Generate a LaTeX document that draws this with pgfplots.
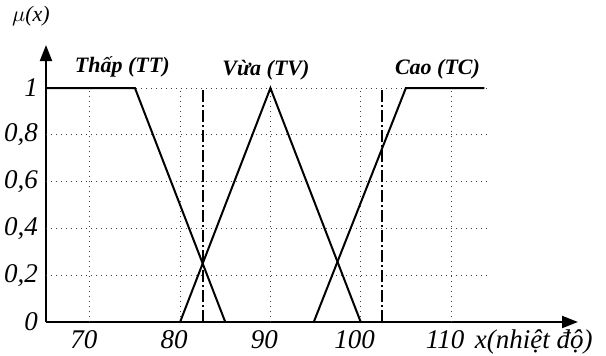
\documentclass[border=0pt]{standalone}
\usepackage{fontspec}
\setmainfont{Liberation Serif}
\usepackage{pgfplots}
\pgfplotsset{compat=1.18}
\usetikzlibrary{arrows.meta}
\begin{document}
\begin{tikzpicture}[font=\fontsize{11}{13}\selectfont\itshape]
\useasboundingbox (-23pt,-16.5pt) rectangle (280pt,161pt);
\begin{axis}[
  at={(0,0)}, anchor=south west,
  scale only axis, width=266pt, height=138.5pt,
  xmin=65.15, xmax=124.06, ymin=0, ymax=1.184,
  axis x line=bottom, axis y line=left,
  axis line style={line width=1pt, -{Triangle[length=8pt,width=6pt]}},
  xtick={70,80,90,100,110}, ytick={0,0.2,0.4,0.6,0.8,1},
  xticklabels={70,80,90,100,110},
  yticklabels={0,{0,2},{0,4},{0,6},{0,8},1},
  major tick length=0pt,
  tick label style={font=\fontsize{13.5}{15}\selectfont\itshape},
  xticklabel style={anchor=base, yshift=-13pt, xshift=-3pt},
  yticklabel style={xshift=-0.5pt},
  clip=false,
]
\pgfplotsinvokeforeach{0.2,0.4,0.6,0.8,1}{
  \addplot[black!75, line width=0.5pt, dotted] coordinates {(65.15,#1) (114,#1)};
}
\pgfplotsinvokeforeach{70,80,90,100,110}{
  \addplot[black!75, line width=0.5pt, dotted] coordinates {(#1,0) (#1,1)};
}
\addplot[black, line width=1pt] coordinates {(65.15,1) (75,1) (85,0)};
\addplot[black, line width=1pt] coordinates {(80,0) (90,1) (100,0)};
\addplot[black, line width=1pt] coordinates {(94.8,0) (105,1) (113.7,1)};
\addplot[black, line width=0.9pt, dash pattern=on 6pt off 1.5pt on 1pt off 1.5pt] coordinates {(82.5,0) (82.5,1)};
\addplot[black, line width=0.9pt, dash pattern=on 6pt off 1.5pt on 1pt off 1.5pt] coordinates {(102.4,0) (102.4,1)};
\node[font=\fontsize{11}{13}\selectfont\bfseries\itshape] at (axis cs:73.6,1.09) {Thấp (TT)};
\node[font=\fontsize{11}{13}\selectfont\bfseries\itshape] at (axis cs:89.5,1.075) {Vừa (TV)};
\node[font=\fontsize{11}{13}\selectfont\bfseries\itshape] at (axis cs:108.5,1.08) {Cao (TC)};
\node[anchor=base west, inner sep=0pt, font=\fontsize{13.5}{15}\selectfont\itshape] at ([yshift=-13pt]axis cs:112.6,0) {x(nhiệt độ)};
\node[font=\fontsize{11}{13}\selectfont\itshape] at ([xshift=-7.5pt,yshift=14.5pt]rel axis cs:0,1) {$\mu$(x)};
\end{axis}
\end{tikzpicture}
\end{document}
